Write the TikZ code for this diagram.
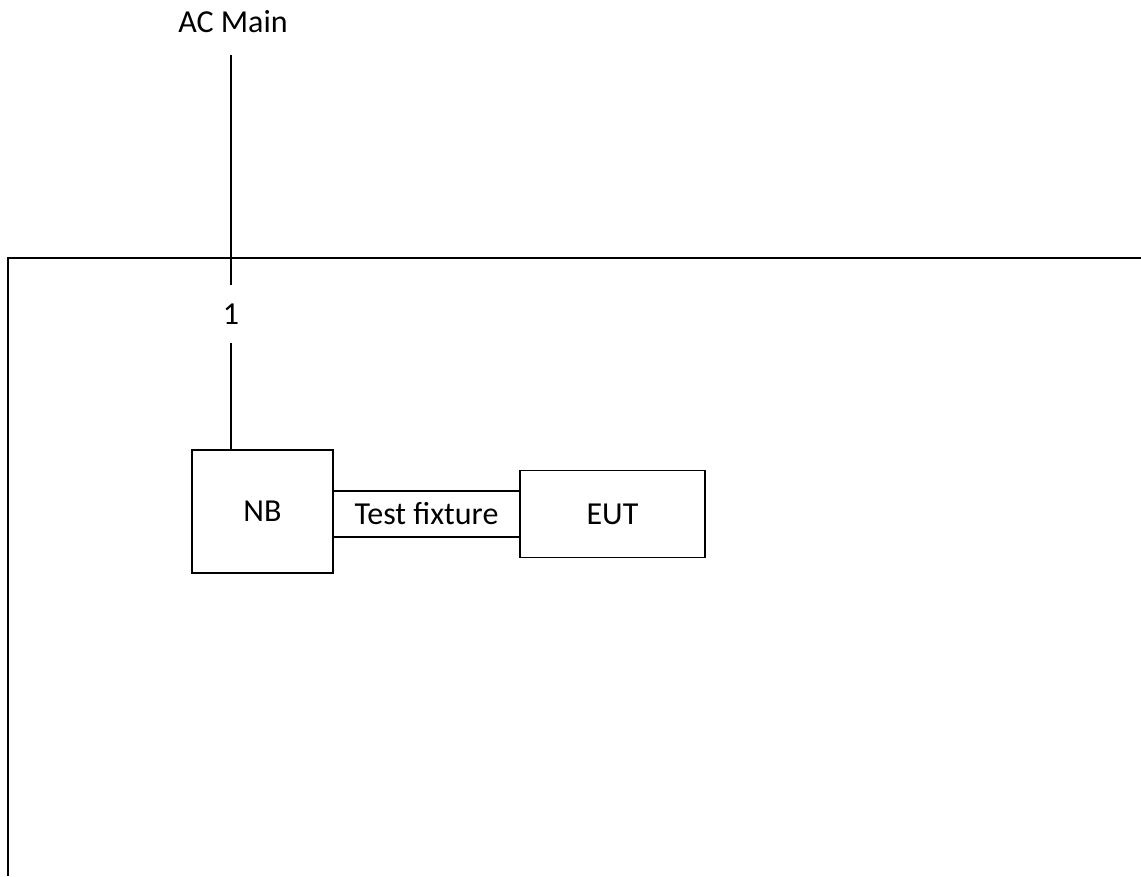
\documentclass[tikz,border=0pt]{standalone}
\usepackage{fontspec}
\setmainfont{Carlito}
\usetikzlibrary{positioning}
\begin{document}
\begin{tikzpicture}[x=1pt, y=-1pt,
        font=\fontsize{32}{38}\selectfont,
        box/.style={draw, line width=1.3pt, inner sep=0pt, outer sep=0pt},
        wire/.style={line width=1.2pt}]
    \useasboundingbox (0,0) rectangle (1141,876);
    % enclosure
    \draw[wire] (1141,258) -- (8,258) -- (8,876);
    \node (ac) at (233,22) {AC Main};
    \node[inner sep=0pt, minimum height=58pt] (port) at (231,314) {1};
    \node[box, minimum width=141pt, minimum height=123pt] (nb) at (262.5,511.5) {NB};
    \node[box, minimum width=187pt, minimum height=46pt, right=0pt of nb, yshift=-2.5pt] (tf) {Test fixture};
    \node[box, minimum width=185pt, minimum height=87pt, right=0pt of tf] (eut) {EUT};
    \draw[wire, shorten <=18pt] (ac.south -| port) -- (port);
    \draw[wire] (port) -- (port |- nb.north);
\end{tikzpicture}
\end{document}
